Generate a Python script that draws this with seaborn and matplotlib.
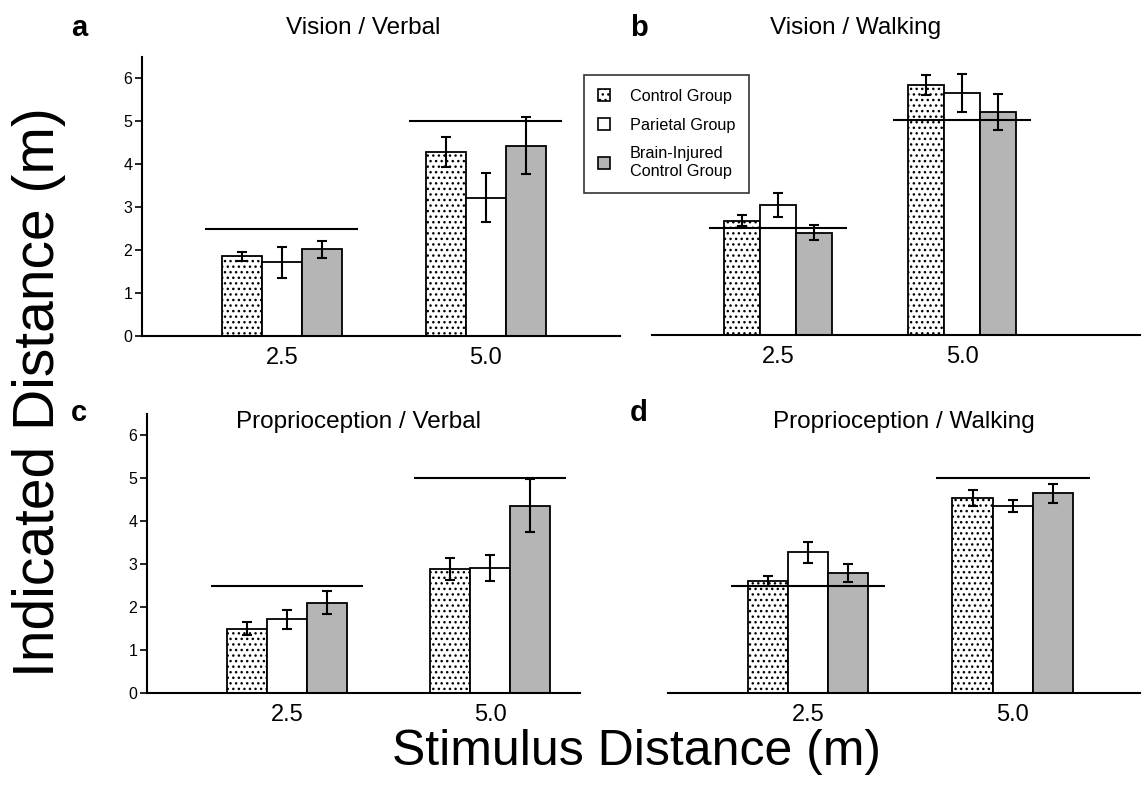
import seaborn as sns
import matplotlib.pyplot as plt
import matplotlib.patches as mpatches
import pandas as pd
import numpy as np

# stimulus distances (m) and groups
stimulus = ['2.5', '5.0']
stimulus_m = [2.5, 5.0]
groups = ['Control Group', 'Parietal Group', 'Brain-Injured\nControl Group']

# mean indicated distance per panel, rows = group, cols = stimulus
vision_verbal = [[1.85, 4.27], [1.72, 3.22], [2.02, 4.43]]
vision_verbal_err = [[0.11, 0.35], [0.36, 0.56], [0.20, 0.67]]

vision_walking = [[2.66, 5.81], [3.02, 5.63], [2.38, 5.19]]
vision_walking_err = [[0.13, 0.23], [0.28, 0.44], [0.18, 0.42]]

prop_verbal = [[1.50, 2.89], [1.71, 2.91], [2.10, 4.36]]
prop_verbal_err = [[0.15, 0.26], [0.22, 0.31], [0.27, 0.61]]

prop_walking = [[2.60, 4.54], [3.27, 4.34], [2.78, 4.64]]
prop_walking_err = [[0.11, 0.19], [0.24, 0.14], [0.21, 0.21]]

titles = ['Vision / Verbal', 'Vision / Walking', 'Proprioception / Verbal', 'Proprioception / Walking']
letters = ['a', 'b', 'c', 'd']

plt.rcParams['font.family'] = ['Liberation Sans', 'DejaVu Sans']
plt.rcParams['hatch.linewidth'] = 1.0

W, H = 1143, 785
fig = plt.figure(figsize=(W / 100, H / 100), dpi=100)


def px_axes(x0, x1, y0):
    # y0 = pixel row of value 0, axis goes up to 6.5 at 43 px per unit
    top = y0 - 6.5 * 43
    return fig.add_axes([x0 / W, (H - y0) / H, (x1 - x0) / W, (y0 - top) / H])


def panel(ax, means, errs, xlim, show_y):
    rows = []
    for g, vals in zip(groups, means):
        for s, v in zip(stimulus, vals):
            rows.append({'stimulus': s, 'group': g, 'value': v})
    df = pd.DataFrame(rows)
    sns.barplot(data=df, x='stimulus', y='value', hue='group', order=stimulus,
                hue_order=groups, width=0.59, errorbar=None, legend=False,
                palette=['white', 'white', '#b5b5b5'], edgecolor='black',
                linewidth=1.3, saturation=1, ax=ax)
    for i, (cont, err) in enumerate(zip(ax.containers, errs)):
        for bar, e in zip(cont, err):
            if i == 0:
                bar.set_hatch('...')
            xc = bar.get_x() + bar.get_width() / 2
            ax.errorbar(xc, bar.get_height(), yerr=e, color='black', lw=1.5,
                        capsize=3.8, capthick=1.5, zorder=5)
    # reference line at the true stimulus distance
    for k, s in enumerate(stimulus_m):
        ax.hlines(s, k - 0.375, k + 0.375, color='black', lw=1.5, zorder=4)
    ax.set_xlim(*xlim)
    ax.set_ylim(0, 6.5)
    ax.set_xlabel('')
    ax.set_ylabel('')
    ax.set_xticks([0, 1])
    ax.set_xticklabels(stimulus, fontsize=17)
    ax.tick_params(axis='x', length=0, pad=8)
    for sp in ['top', 'right']:
        ax.spines[sp].set_visible(False)
    ax.spines['bottom'].set_linewidth(1.5)
    if show_y:
        ax.set_yticks(range(7))
        ax.tick_params(axis='y', labelsize=11.5, length=5, width=1.2, pad=2)
        ax.spines['left'].set_linewidth(1.5)
    else:
        ax.spines['left'].set_visible(False)
        ax.set_yticks([])
    ax.set_facecolor('none')


ax_a = px_axes(142, 620, 336)
panel(ax_a, vision_verbal, vision_verbal_err, (-0.686, 1.657), True)
ax_b = px_axes(652, 1140, 335)
panel(ax_b, vision_walking, vision_walking_err, (-0.685, 1.967), False)
ax_c = px_axes(147, 580, 693)
panel(ax_c, prop_verbal, prop_verbal_err, (-0.69, 1.443), True)
ax_d = px_axes(668, 1140, 693)
panel(ax_d, prop_walking, prop_walking_err, (-0.683, 1.62), False)

title_pos = [(363, 28), (856, 28), (358, 422), (904, 422)]
letter_pos = [(79, 28), (639, 28), (79, 413), (639, 413)]
for t, (x, y) in zip(titles, title_pos):
    fig.text(x / W, 1 - y / H, t, ha='center', va='center', fontsize=17.5)
for t, (x, y) in zip(letters, letter_pos):
    fig.text(x / W, 1 - y / H, t, ha='center', va='center', fontsize=21, fontweight='bold')

fig.text(39 / W, 1 - 392 / H, 'Indicated Distance (m)', rotation=90, ha='center',
         va='center', fontsize=41)
fig.text(637 / W, 1 - 752 / H, 'Stimulus Distance (m)', ha='center', va='center',
         fontsize=36)

handles = [mpatches.Patch(facecolor='white', edgecolor='black', hatch='...', lw=1.2),
           mpatches.Patch(facecolor='white', edgecolor='black', lw=1.2),
           mpatches.Patch(facecolor='#b5b5b5', edgecolor='black', lw=1.2)]
leg = fig.legend(handles, groups, loc='upper left', bbox_to_anchor=(584 / W, 1 - 75 / H),
                 borderaxespad=0, fontsize=11.7, frameon=True, fancybox=False,
                 edgecolor='black', handlelength=0.75, handleheight=0.75,
                 handletextpad=1.2, borderpad=0.85, labelspacing=0.85)
leg.get_frame().set_linewidth(1.2)

fig.savefig('out.png', dpi=100)
